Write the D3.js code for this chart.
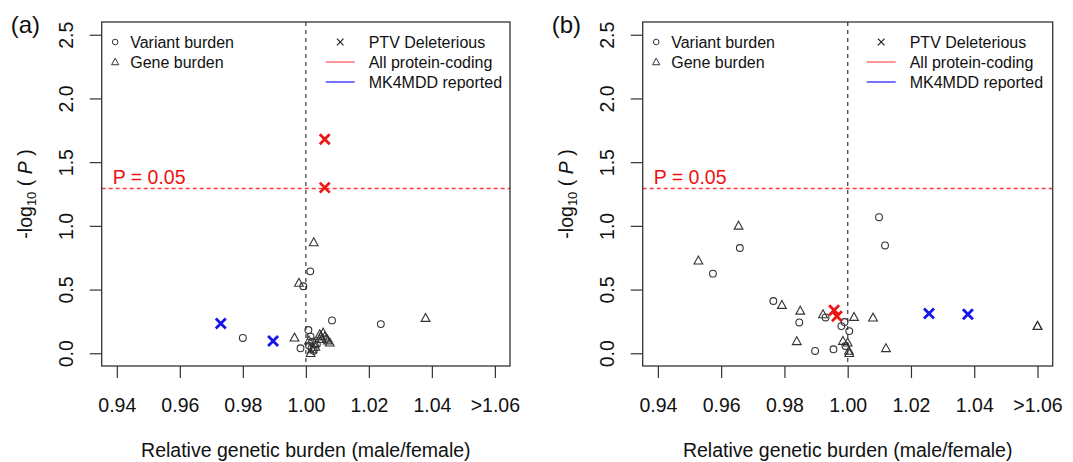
<!DOCTYPE html>
<html>
<head>
<meta charset="utf-8">
<script src="https://cdn.jsdelivr.net/npm/d3@7"></script>
<style>
  html, body { margin: 0; padding: 0; background: #fff; }
  svg { display: block; font-family: "Liberation Sans", Arial, Helvetica, sans-serif; }
</style>
</head>
<body>
<svg id="chart" width="1073" height="462"></svg>
<script>
// ---------------- data ----------------
const xTickValues = [0.94, 0.96, 0.98, 1.00, 1.02, 1.04, 1.06];
const xTickLabels = ["0.94", "0.96", "0.98", "1.00", "1.02", "1.04", ">1.06"];
const yTickValues = [0.0, 0.5, 1.0, 1.5, 2.0, 2.5];
const yTickLabels = ["0.0", "0.5", "1.0", "1.5", "2.0", "2.5"];
const pThreshold = 1.3; // -log10(0.05)

// Panel (a)
const aVariant = [[0.980,0.12],[1.0014,0.643],[0.9992,0.526],[1.0083,0.258],[1.0238,0.229],
  [1.0008,0.182],[0.9983,0.039],[1.001,0.06],[1.002,0.09],[1.0025,0.02],[1.0035,0.07],[1.0015,0.13],
  [1.0018,0.04]];
const aGene = [[1.0025,0.87],[0.9978,0.552],[1.038,0.276],[0.9964,0.122],[1.0044,0.148],[1.0055,0.161],
  [1.0066,0.115],[1.0076,0.083],[1.005,0.11],[1.002,0.03],[1.0015,0.0],[1.003,0.05],[1.001,0.10],
  [1.006,0.13],[1.007,0.10],[1.0048,0.135],[1.0028,0.08]];
const aPtvAll = [[1.006,1.68],[1.006,1.30]];
const aPtvMK = [[0.973,0.234],[0.9896,0.096]];

// Panel (b)
const bVariant = [[0.9659,0.826],[0.9574,0.625],[1.0099,1.068],[1.0118,0.846],[0.9765,0.41],
  [0.9847,0.242],[0.9897,0.018],[0.9955,0.031],[0.993,0.281],[0.998,0.213],[0.999,0.245],
  [1.0005,0.174],[0.9993,0.057]];
const bGene = [[0.9655,1.0],[0.9528,0.727],[0.9792,0.378],[0.985,0.333],[0.9839,0.094],[0.9922,0.305],
  [1.002,0.284],[1.008,0.279],[1.0121,0.039],[0.9985,0.096],[1.0,0.083],[1.0004,0.018],[1.0005,0.0],
  [1.06,0.213],[1.06,0.215]];
const bPtvAll = [[0.9957,0.338],[0.9966,0.291]];
const bPtvMK = [[1.0257,0.3125],[1.038,0.307]];

const panels = [
  {label: "(a)", left: 101.7, right: 510, variant: aVariant, gene: aGene, ptvAll: aPtvAll, ptvMK: aPtvMK},
  {label: "(b)", left: 642.7, right: 1052.7, variant: bVariant, gene: bGene, ptvAll: bPtvAll, ptvMK: bPtvMK}
];

// ---------------- drawing ----------------
const svg = d3.select("#chart");
svg.append("rect").attr("width", 1073).attr("height", 462).attr("fill", "#fff");

const TOP = 22, BOTTOM = 366;
const RED = "#f01515", BLUE = "#1515f0";
const INK = "#333";
const tickFont = 19.5;

const triPath = s => `M0,${-s}L${s*0.95},${s*0.72}L${-s*0.95},${s*0.72}Z`;

function drawX(g, x, y, s, color, w) {
  g.append("path")
    .attr("d", `M${x-s},${y-s}L${x+s},${y+s}M${x-s},${y+s}L${x+s},${y-s}`)
    .attr("stroke", color).attr("stroke-width", w).attr("fill", "none");
}

panels.forEach(p => {
  const g = svg.append("g");
  const x = d3.scaleLinear().domain([0.9352, 1.0648]).range([p.left, p.right]);
  const y = d3.scaleLinear().domain([-0.1, 2.6]).range([BOTTOM, TOP]);

  // panel label
  g.append("text").attr("x", p.left - 91).attr("y", 33)
    .attr("font-size", 24).attr("fill", "#111").text(p.label);

  // x axis
  const xAxis = d3.axisBottom(x).tickValues(xTickValues)
    .tickFormat((d, i) => xTickLabels[i]).tickSize(12).tickPadding(34);
  const gx = g.append("g").attr("transform", `translate(0,${BOTTOM})`).call(xAxis);
  gx.select(".domain").remove();
  gx.selectAll(".tick line").attr("stroke", INK).attr("stroke-width", 1.2);
  gx.selectAll(".tick text").attr("font-size", tickFont).attr("fill", "#111")
    .attr("font-family", "Liberation Sans, Arial, sans-serif").attr("dy", "0");

  // y axis
  const yAxis = d3.axisLeft(y).tickValues(yTickValues)
    .tickFormat((d, i) => yTickLabels[i]).tickSize(12).tickPadding(0);
  const gy = g.append("g").attr("transform", `translate(${p.left},0)`).call(yAxis);
  gy.select(".domain").remove();
  gy.selectAll(".tick line").attr("stroke", INK).attr("stroke-width", 1.2);
  gy.selectAll(".tick text").attr("font-size", tickFont).attr("fill", "#111")
    .attr("font-family", "Liberation Sans, Arial, sans-serif")
    .attr("x", null).attr("dy", null)
    .attr("text-anchor", "middle")
    .attr("transform", `translate(${-29},0) rotate(-90)`);

  // axis titles
  g.append("text").attr("x", (p.left + p.right) / 2).attr("y", 457)
    .attr("text-anchor", "middle").attr("font-size", tickFont).attr("fill", "#111")
    .text("Relative genetic burden (male/female)");
  const yt = g.append("text")
    .attr("transform", `translate(${p.left - 70},${(TOP + BOTTOM) / 2}) rotate(-90)`)
    .attr("text-anchor", "middle").attr("font-size", tickFont).attr("fill", "#111");
  yt.append("tspan").text("-log");
  yt.append("tspan").attr("font-size", 13).attr("dy", 4).text("10");
  yt.append("tspan").attr("dy", -4).text(" ( ");
  yt.append("tspan").attr("font-style", "italic").text("P");
  yt.append("tspan").text(" )");

  // reference lines
  g.append("line").attr("x1", x(1)).attr("x2", x(1)).attr("y1", TOP).attr("y2", BOTTOM)
    .attr("stroke", "#555").attr("stroke-width", 1.4).attr("stroke-dasharray", "4,4");
  const yp = Math.round(y(pThreshold)) + 0.5;
  g.append("line").attr("x1", p.left).attr("x2", p.right).attr("y1", yp).attr("y2", yp)
    .attr("stroke", "#ff3b3b").attr("stroke-width", 1.5).attr("stroke-dasharray", "4,3");
  g.append("text").attr("x", p.left + 11).attr("y", yp - 5)
    .attr("font-size", tickFont).attr("fill", "#ee1111").text("P = 0.05");

  // data: circles
  g.selectAll(".vb").data(p.variant).enter().append("circle")
    .attr("cx", d => x(d[0])).attr("cy", d => y(d[1])).attr("r", 3.4)
    .attr("fill", "none").attr("stroke", INK).attr("stroke-width", 1.1);
  // data: triangles
  g.selectAll(".gb").data(p.gene).enter().append("path")
    .attr("transform", d => `translate(${x(d[0])},${y(d[1])})`)
    .attr("d", triPath(4.6))
    .attr("fill", "none").attr("stroke", INK).attr("stroke-width", 1.1);
  // PTV crosses
  p.ptvAll.forEach(d => drawX(g, x(d[0]), y(d[1]), 5, RED, 2.8));
  p.ptvMK.forEach(d => drawX(g, x(d[0]), y(d[1]), 5, BLUE, 2.8));

  // legend
  const lx = p.left;
  const rows = [42, 62, 82];
  g.append("circle").attr("cx", lx + 13.5).attr("cy", rows[0]).attr("r", 2.8)
    .attr("fill", "none").attr("stroke", INK).attr("stroke-width", 1);
  g.append("path").attr("transform", `translate(${lx + 13.5},${rows[1]})`).attr("d", triPath(3.8))
    .attr("fill", "none").attr("stroke", INK).attr("stroke-width", 1);
  const legFont = 16;
  [["Variant burden", 0], ["Gene burden", 1]].forEach(([t, i]) => {
    g.append("text").attr("x", lx + 28.5).attr("y", rows[i] + 5.6)
      .attr("font-size", legFont).attr("fill", "#111").text(t);
  });
  drawX(g, lx + 238.5, rows[0], 3.3, "#222", 1.2);
  g.append("line").attr("x1", lx + 224).attr("x2", lx + 253).attr("y1", rows[1]).attr("y2", rows[1])
    .attr("stroke", "#ff6b6b").attr("stroke-width", 1.4);
  g.append("line").attr("x1", lx + 224).attr("x2", lx + 253).attr("y1", rows[2]).attr("y2", rows[2])
    .attr("stroke", "#3a3aff").attr("stroke-width", 1.4);
  [["PTV Deleterious", 0], ["All protein-coding", 1], ["MK4MDD reported", 2]].forEach(([t, i]) => {
    g.append("text").attr("x", lx + 267).attr("y", rows[i] + 5.6)
      .attr("font-size", legFont).attr("fill", "#111").text(t);
  });

  // box
  g.append("rect").attr("x", p.left).attr("y", TOP)
    .attr("width", p.right - p.left).attr("height", BOTTOM - TOP)
    .attr("fill", "none").attr("stroke", INK).attr("stroke-width", 1.3);
});
</script>
</body>
</html>
